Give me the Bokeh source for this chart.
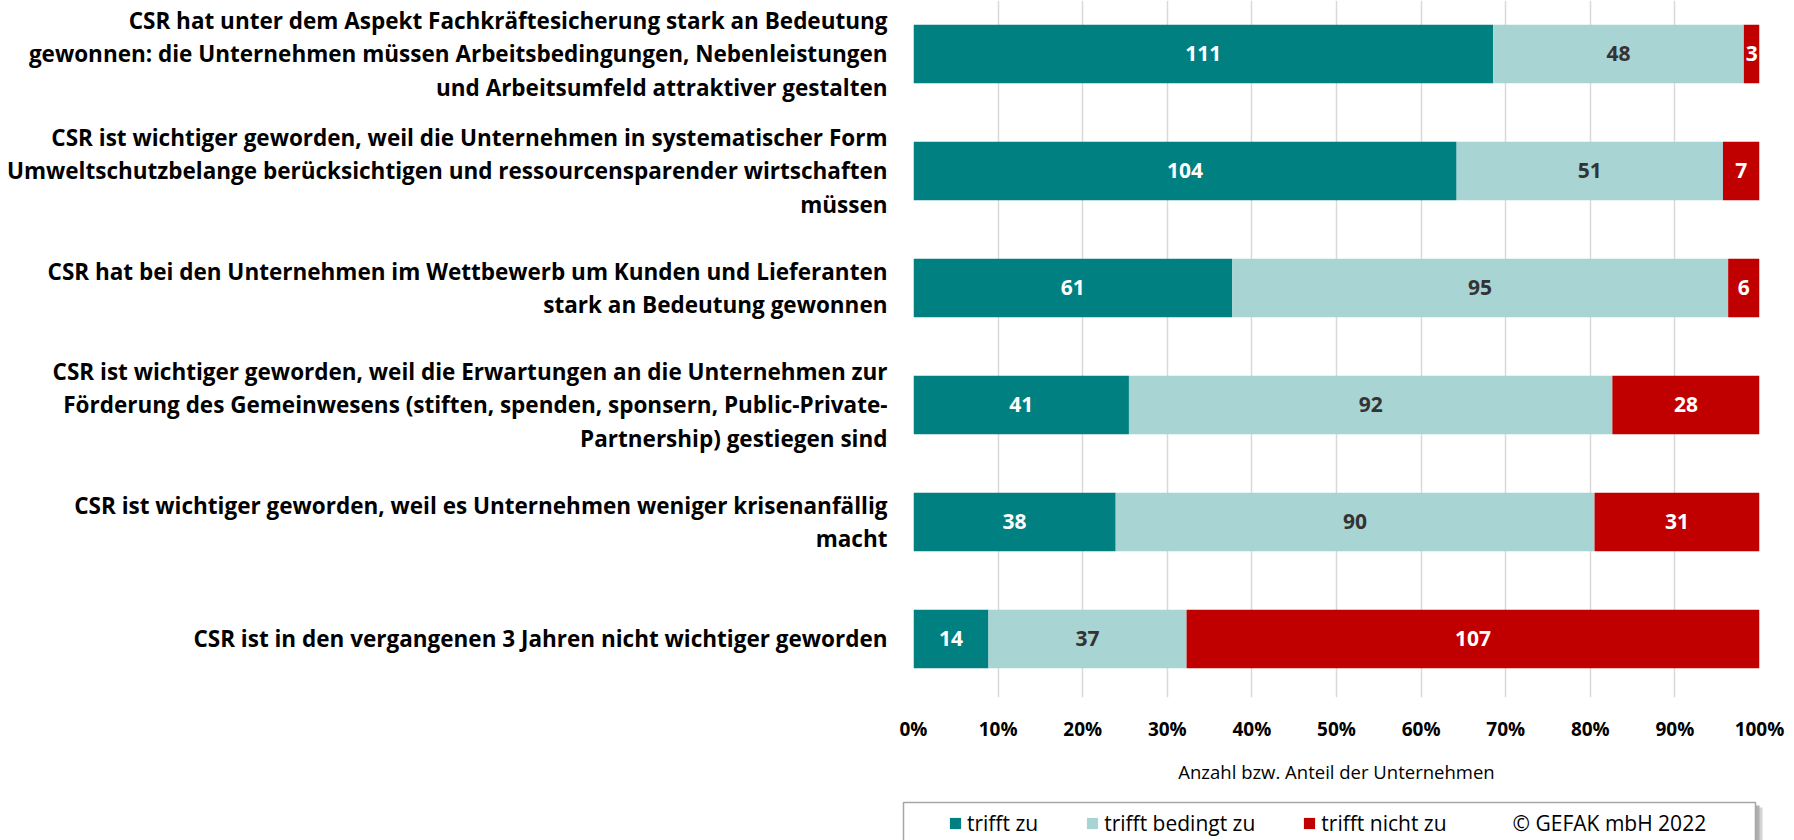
from bokeh.plotting import figure
from bokeh.models import (ColumnDataSource, Range1d, FixedTicker, NumeralTickFormatter,
                          Legend, LegendItem)
from bokeh.core.properties import value
from bokeh.embed import file_html
from bokeh.resources import INLINE

# ---- data (top to bottom) ----
statements = [
    "CSR hat unter dem Aspekt Fachkräftesicherung stark an Bedeutung\ngewonnen: die Unternehmen müssen Arbeitsbedingungen, Nebenleistungen\nund Arbeitsumfeld attraktiver gestalten",
    "CSR ist wichtiger geworden, weil die Unternehmen in systematischer Form\nUmweltschutzbelange berücksichtigen und ressourcensparender wirtschaften\nmüssen",
    "CSR hat bei den Unternehmen im Wettbewerb um Kunden und Lieferanten\nstark an Bedeutung gewonnen",
    "CSR ist wichtiger geworden, weil die Erwartungen an die Unternehmen zur\nFörderung des Gemeinwesens (stiften, spenden, sponsern, Public-Private-\nPartnership) gestiegen sind",
    "CSR ist wichtiger geworden, weil es Unternehmen weniger krisenanfällig\nmacht",
    "CSR ist in den vergangenen 3 Jahren nicht wichtiger geworden",
]
trifft_zu = [111, 104, 61, 41, 38, 14]
trifft_bedingt = [48, 51, 95, 92, 90, 37]
trifft_nicht = [3, 7, 6, 28, 31, 107]
series_names = ["trifft zu", "trifft bedingt zu", "trifft nicht zu"]
copyright_text = "© GEFAK mbH 2022"
x_ticks = [0, 0.1, 0.2, 0.3, 0.4, 0.5, 0.6, 0.7, 0.8, 0.9, 1.0]
axis_title = "Anzahl bzw. Anteil der Unternehmen"

colors = ["#008080", "#A8D4D4", "#C00000"]
text_colors = ["#FFFFFF", "#333333", "#FFFFFF"]
FONT = "Open Sans"
W = 1786

n = len(statements)
ypos = [n - 1 - i for i in range(n)]
totals = [a + b + c for a, b, c in zip(trifft_zu, trifft_bedingt, trifft_nicht)]
series = [trifft_zu, trifft_bedingt, trifft_nicht]

p = figure(width=W, height=800, output_backend="svg", toolbar_location=None,
           x_range=Range1d(0, 1), y_range=Range1d(-0.5, 5.457),
           min_border_left=913, min_border_right=27, min_border_top=0,
           min_border_bottom=103)
p.outline_line_color = None
p.background_fill_color = "white"

left = [0.0] * n
for k, vals in enumerate(series):
    share = [v / t for v, t in zip(vals, totals)]
    right = [l + s for l, s in zip(left, share)]
    mid = [(l + r) / 2 for l, r in zip(left, right)]
    src = ColumnDataSource(dict(y=ypos, left=left, right=right, mid=mid,
                                lab=[str(v) for v in vals]))
    p.hbar(y="y", left="left", right="right", height=0.5, source=src,
           fill_color=colors[k], line_color=None)
    p.text(x="mid", y="y", text="lab", source=src, text_align="center",
           text_baseline="middle", text_color=text_colors[k],
           text_font=value(FONT), text_font_style="bold", text_font_size="21px")
    left = right

# grid
p.ygrid.grid_line_color = None
p.xgrid.ticker = FixedTicker(ticks=x_ticks)
p.xgrid.grid_line_color = "#D9D9D9"
p.xgrid.grid_line_width = 1.5
p.xgrid.level = "underlay"

# x axis
xa = p.xaxis[0]
xa.ticker = FixedTicker(ticks=x_ticks)
xa.formatter = NumeralTickFormatter(format="0%")
xa.axis_line_color = None
xa.major_tick_line_color = None
xa.minor_tick_line_color = None
xa.major_tick_out = 0
xa.major_tick_in = 0
xa.major_label_text_font = FONT
xa.major_label_text_font_style = "bold"
xa.major_label_text_font_size = "19px"
xa.major_label_text_color = "#000000"
xa.major_label_standoff = 18
xa.axis_label = axis_title
xa.axis_label_text_font = FONT
xa.axis_label_text_font_style = "normal"
xa.axis_label_text_font_size = "18.5px"
xa.axis_label_text_color = "#000000"
xa.axis_label_standoff = 14

# y axis
ya = p.yaxis[0]
ya.ticker = FixedTicker(ticks=ypos)
ya.major_label_overrides = {y: s for y, s in zip(ypos, statements)}
ya.axis_line_color = None
ya.major_tick_line_color = None
ya.minor_tick_line_color = None
ya.major_tick_out = 0
ya.major_tick_in = 0
ya.major_label_text_font = FONT
ya.major_label_text_font_style = "bold"
ya.major_label_text_font_size = "22.5px"
ya.major_label_text_color = "#000000"
ya.major_label_text_line_height = 1.08
ya.major_label_text_align = "right"
ya.major_label_standoff = 26

# ---- legend strip (separate root below, pixel ranges) ----
H2 = 40
q = figure(width=W, height=H2, output_backend="svg", toolbar_location=None,
           x_range=Range1d(0, W), y_range=Range1d(0, H2),
           min_border=0, min_border_left=0, min_border_right=0,
           min_border_top=0, min_border_bottom=0)
q.axis.visible = False
q.grid.visible = False
q.outline_line_color = None
# legend frame with soft shadow
q.quad(left=[909], right=[1762], top=[33], bottom=[-20],
       fill_color="#D4D4D4", line_color=None)
q.quad(left=[906], right=[1759], top=[35], bottom=[-20],
       fill_color="#B0B0B0", line_color=None)
q.quad(left=[903], right=[1755], top=[38], bottom=[-20],
       fill_color="white", line_color="#A6A6A6", line_width=1.5)

# legend swatches: renderers whose single row lies outside the strip's visible range
leg_r = [q.hbar(y=[-1000], left=[0], right=[1], height=1,
                fill_color=colors[k], line_color=None)
         for k in range(3)]
dummy = q.scatter(x=[-1000], y=[-1000], size=1, fill_alpha=0, line_alpha=0)
items = [LegendItem(label=series_names[k], renderers=[leg_r[k]]) for k in range(3)]
items.append(LegendItem(label=copyright_text, renderers=[dummy]))
legend = Legend(items=items, orientation="horizontal", location=(948, 3),
                glyph_width=14, glyph_height=14, label_standoff=5, spacing=47,
                padding=0, margin=0,
                label_text_font=FONT, label_text_font_size="21px",
                label_text_color="#000000",
                border_line_color=None, background_fill_alpha=0)
q.add_layout(legend, "center")

open("out.html", "w").write(file_html([p, q], INLINE))
